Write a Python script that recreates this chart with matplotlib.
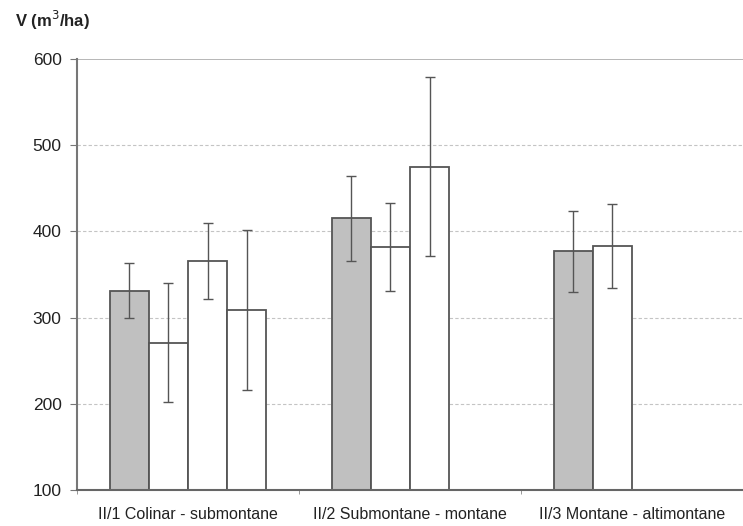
import numpy as np
import matplotlib.pyplot as plt

plt.rcParams['font.family'] = ['Liberation Sans', 'DejaVu Sans']

categories = ['II/1 Colinar - submontane', 'II/2 Submontane - montane', 'II/3 Montane - altimontane']

# one list per bar slot inside a group (None = no bar)
series_means = [
    [331, 415, 377],
    [271, 382, 383],
    [366, 475, None],
    [309, None, None],
]
series_errs = [
    [32, 49, 47],
    [69, 51, 49],
    [44, 104, None],
    [93, None, None],
]
series_colors = ['#c0c0c0', 'white', 'white', 'white']

fig = plt.figure(figsize=(7.43, 5.26), dpi=100)
ax = fig.add_axes([0.1036, 0.0684, 0.8964, 0.8196])

width = 0.176
x = np.arange(len(categories))
for i, (m, e) in enumerate(zip(series_means, series_errs)):
    pos = x - 0.352 + width * (i + 0.5)
    keep = [j for j in range(len(m)) if m[j] is not None]
    ax.bar(pos[keep], [m[j] for j in keep], width, bottom=0,
           color=series_colors[i], edgecolor='#555555', linewidth=1.3, zorder=2)
    ax.errorbar(pos[keep], [m[j] for j in keep], yerr=[e[j] for j in keep],
                fmt='none', ecolor='#555555', elinewidth=1.0, capsize=3.5,
                capthick=1.0, zorder=3)

ax.set_ylim(100, 600)
ax.set_xlim(-0.5, 2.5)
ax.set_yticks([100, 200, 300, 400, 500, 600])
for yv in [200, 300, 400, 500]:
    ax.axhline(yv, color='#c4c4c4', linestyle=(0, (3, 2)), linewidth=0.8, zorder=1)
ax.axhline(600, color='#aaaaaa', linewidth=1.2, zorder=1)

ax.set_xticks(x)
ax.set_xticklabels(categories, fontsize=11.5, color='#222222')
ax.tick_params(axis='x', length=0, pad=12)
ax.set_xticks([-0.5, 0.5, 1.5, 2.5], minor=True)
ax.tick_params(axis='x', which='minor', length=3, color='#888888')
ax.tick_params(axis='y', length=5, color='#777777', labelsize=12.5, labelcolor='#222222', pad=6)

for s in ['top', 'right']:
    ax.spines[s].set_visible(False)
ax.spines['left'].set_color('#777777')
ax.spines['left'].set_linewidth(1.5)
ax.spines['bottom'].set_color('#666666')
ax.spines['bottom'].set_linewidth(1.5)

fig.text(0.02, 0.962, 'V (m$^3$/ha)', fontsize=12, fontweight='bold', color='#222222',
         va='center', ha='left')

fig.savefig('out.png', dpi=100)
